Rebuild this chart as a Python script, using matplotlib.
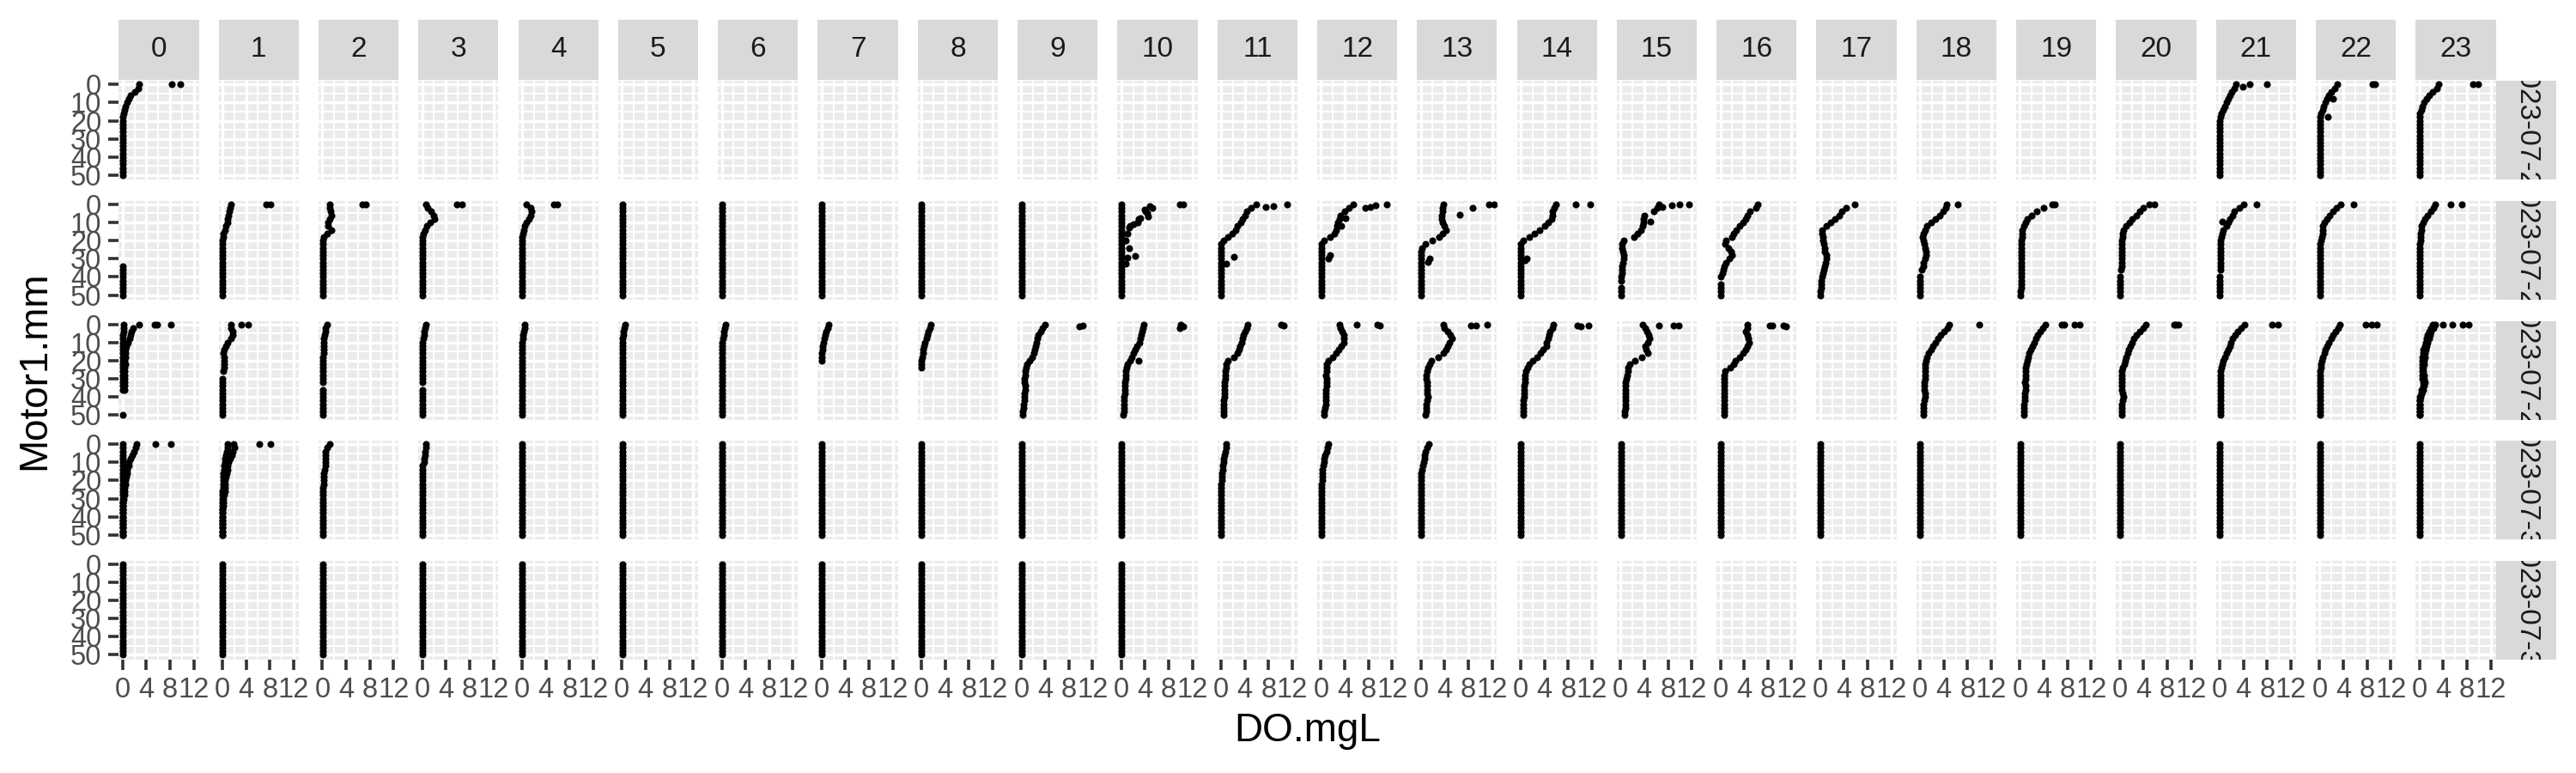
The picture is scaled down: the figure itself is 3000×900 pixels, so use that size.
import numpy as np
import matplotlib
matplotlib.use('Agg')
import matplotlib.pyplot as plt

plt.rcParams['font.family'] = ['Liberation Sans', 'DejaVu Sans']

# ---------------- data ----------------
N = None
z = 0.05
DEPTH = [0, 2, 4, 6, 8, 10, 12, 14, 16, 18, 20, 22, 24,
         26, 28, 30, 32, 34, 36, 38, 40, 42, 44, 46, 48, 50]
HOURS = list(range(24))
DATES = ['2023-07-27', '2023-07-28', '2023-07-29', '2023-07-30', '2023-07-31']
X_TICKS = [0, 4, 8, 12]
Y_TICKS = [0, 10, 20, 30, 40, 50]

flat = [z, z, z, z, z, z, z, z, z, z, z, z, z,
        z, z, z, z, z, z, z, z, z, z, z, z, z]

# DO.mgL profiles per hour (values at DEPTH), day 1
P27 = {
    0: [[2.8, 2.6, 2.0, 1.4, 1.0, 0.7, 0.5, 0.3, 0.2, 0.1, z, z, z,
         z, z, z, z, z, z, z, z, z, z, z, z, z]],
    21: [[2.8, 2.4, 2.0, 1.7, 1.4, 1.1, 0.8, 0.6, 0.3, 0.1, z, z, z,
          z, z, z, z, z, z, z, z, z, z, z, z, z]],
    22: [[3.0, 2.6, 2.0, 1.6, 1.3, 1.0, 0.7, 0.5, 0.3, 0.1, z, z, z,
          z, z, z, z, z, z, z, z, z, z, z, z, z]],
    23: [[3.2, 3.0, 2.2, 1.6, 1.2, 0.8, 0.5, 0.3, 0.1, z, z, z, z,
          z, z, z, z, z, z, z, z, z, z, z, z, z]],
}
E27 = {0: [(0, 8.3), (0, 9.7)],
       21: [(1.5, 3.9), (0, 5.1), (0, 8.0)],
       22: [(7.8, 2.2), (18, 1.4), (0, 8.9), (0, 9.4)],
       23: [(0, 9.0), (0, 9.9)]}

P28 = {
    0: [[N, N, N, N, N, N, N, N, N, N, N, N, N,
         N, N, N, N, z, z, z, z, z, z, z, z, z]],
    1: [[1.4, 1.3, 1.1, 1.0, 0.9, 0.8, 0.6, 0.4, 0.2, 0.1, z, z, z,
         z, z, z, z, z, z, z, z, z, z, z, z, z]],
    2: [[1.2, 1.2, 1.4, 1.5, 1.2, 0.9, 1.0, 1.5, 0.8, 0.3, 0.1, z, z,
         z, z, z, z, z, z, z, z, z, z, z, z, z]],
    3: [[0.7, 0.9, 1.5, 2.0, 2.1, 1.4, 0.8, 0.5, 0.2, z, z, z, z,
         z, z, z, z, z, z, z, z, z, z, z, z, z]],
    4: [[0.8, 1.4, 1.6, 1.4, 1.1, 0.8, 0.5, 0.3, 0.1, z, z, z, z,
         z, z, z, z, z, z, z, z, z, z, z, z, z]],
    5: [flat], 6: [flat], 7: [flat], 8: [flat], 9: [flat], 10: [flat],
    11: [[6.0, 5.0, 4.4, 4.0, 3.6, 3.3, 2.8, 2.4, 1.9, 1.2, 0.4, z, z,
          z, z, z, z, z, z, z, z, z, z, z, z, z]],
    12: [[5.5, 4.7, 4.0, 3.3, 3.2, 2.9, 2.7, 2.6, 2.3, 1.5, 0.5, z, z,
          z, z, z, z, z, z, z, z, z, z, z, z, z]],
    13: [[3.8, 3.7, 3.6, 3.5, 3.5, 3.6, 4.0, 4.2, 3.7, 3.1, 2.0, 0.8, 0.2,
          z, z, z, z, z, z, z, z, z, z, z, z, z]],
    14: [[6.0, 5.6, 5.3, 5.4, 5.2, 4.6, 4.1, 3.2, 2.3, 1.4, 0.5, z, z,
          z, z, z, z, z, z, z, z, z, z, z, z, z]],
    15: [[6.5, 6.2, 5.6, 4.0, 3.9, 3.9, 3.8, 3.5, 2.9, 2.3, 0.6, 0.3, 0.3,
          0.4, 0.6, 0.6, 0.4, 0.3, 0.2, 0.2, 0.1, 0.1, N, z, z, z]],
    16: [[6.3, 6.0, 5.0, 4.6, 4.2, 3.8, 3.2, 2.7, 2.3, 2.0, 1.0, 0.8, 1.3,
          1.8, 2.0, 1.5, 1.0, 0.7, 0.5, 0.3, 0.1, N, z, z, z, z]],
    17: [[5.8, 4.3, 3.7, 3.2, 2.5, 1.8, 1.0, 0.3, 0.3, 0.4, 0.5, 0.6, 0.7,
          0.8, 1.0, 1.0, 0.9, 0.7, 0.6, 0.5, 0.3, 0.2, 0.2, 0.1, z, z]],
    18: [[4.5, 4.3, 3.9, 3.3, 2.6, 1.8, 1.2, 0.8, 0.5, 0.4, 0.5, 0.7, 0.9,
          1.0, 1.0, 0.8, 0.6, 0.5, 0.3, N, z, z, z, z, z, z]],
    19: [[5.5, 4.0, 2.8, 2.0, 1.3, 0.9, 0.6, 0.4, 0.4, 0.4, 0.3, 0.3, 0.3,
          0.3, 0.3, 0.3, 0.3, 0.3, 0.3, 0.3, 0.3, 0.2, 0.2, 0.2, 0.1, 0.1]],
    20: [[5.0, 3.9, 3.3, 2.8, 2.1, 1.7, 1.1, 0.6, 0.5, 0.5, 0.4, 0.4, 0.4,
          0.4, 0.3, 0.3, 0.3, 0.3, 0.2, N, z, z, z, z, z, z]],
    21: [[4.0, 3.3, 2.5, 2.1, 1.7, 1.4, 1.1, 0.6, 0.4, 0.3, 0.2, 0.1, 0.1,
          0.1, 0.1, 0.1, 0.1, 0.1, 0.1, N, z, z, z, z, z, z]],
    22: [[3.5, 2.9, 2.3, 1.7, 1.2, 0.8, 0.6, 0.5, 0.5, 0.4, 0.3, 0.1, 0.1,
          0.1, 0.1, 0.1, 0.1, 0.1, 0.1, 0.1, 0.1, 0.1, 0.1, z, z, z]],
    23: [[2.6, 2.4, 1.9, 1.4, 0.9, 0.6, 0.4, 0.3, 0.2, 0.2, 0.2, 0.1, 0.1,
          0.1, 0.1, 0.1, 0.1, 0.1, 0.1, 0.1, 0.1, 0.1, 0.1, 0.1, z, z]],
}
E28 = {1: [(0, 7.4), (0, 8.1)],
       2: [(0, 6.7), (0, 7.4)],
       3: [(0, 5.9), (0, 6.7)],
       4: [(0, 5.3), (0, 6.0)],
       10: [(0, 9.9), (0, 10.4), (1, 4.8), (2, 5.3), (3, 4.0), (4, 4.1),
            (5, 4.4), (6.5, 4.5), (7.5, 3.2), (8, 3.0), (10, 2.8), (11, 2.0),
            (12, 1.5), (13, 1.3), (16, 1.0), (20, 0.7), (24, 1.3),
            (28.5, 2.4), (29.5, 1.0), (32.5, 0.7)],
       11: [(0, 11.1), (1, 8.8), (1.5, 7.5), (29, 2.2), (32.5, 0.9)],
       12: [(0, 11.1), (0.5, 9.2), (1.5, 8.3), (2, 7.5), (7.5, 4.1),
            (12, 3.4), (28, 1.5), (30, 1.3)],
       13: [(0, 12.3), (0.2, 11.5), (2, 8.7), (5.5, 6.5), (30, 1.5), (31.5, 1.2)],
       14: [(0, 9.3), (0, 11.8), (30, 1.0), (31, 0.8)],
       15: [(0, 11.6), (0, 10.0), (0.5, 8.6), (1.5, 7.1), (9.5, 5.1)],
       18: [(0, 6.4)], 19: [(0, 5.9)], 20: [(0, 5.9)],
       21: [(0, 6.2), (9.5, 0.5)], 22: [(0, 5.7)], 23: [(0, 5.2), (0, 7.1)]}

P29 = {
    0: [[2.8, 1.8, 1.5, 1.4, 1.2, 0.9, 0.6, 0.5, 0.5, 0.5, 0.4, 0.5, 0.4,
         0.3, 0.3, 0.3, 0.3, 0.4, 0.3, N, N, N, N, N, N, z],
        [0.2, 0.2, 0.2, 0.1, 0.1, 0.1, 0.1, 0.1, 0.1, 0.1, 0.1, 0.1, 0.1,
         0.1, 0.1, 0.1, 0.1, 0.1, 0.1, N, N, N, N, N, N, N]],
    1: [[1.5, 1.4, 1.7, 1.8, 1.4, 0.9, 0.6, 0.3, 0.2, 0.3, 0.3, 0.3, 0.3,
         0.2, N, z, z, z, z, z, z, z, z, z, z, z]],
    2: [[0.8, 0.6, 0.5, 0.4, 0.3, 0.3, 0.2, 0.2, 0.2, 0.1, 0.1, 0.1, 0.1,
         0.1, 0.1, 0.1, 0.1, N, z, z, z, z, z, z, z, z]],
    3: [[0.6, 0.5, 0.4, 0.3, 0.2, 0.1, 0.1, z, z, z, z, z, z,
         z, z, z, z, N, z, z, z, z, z, z, z, z]],
    4: [[0.5, 0.4, 0.3, 0.2, 0.1, z, z, z, z, z, z, z, z,
         z, z, z, z, z, z, z, z, z, z, z, z, z]],
    5: [[0.5, 0.4, 0.3, 0.2, 0.1, z, z, z, z, z, z, z, z,
         z, z, z, z, z, z, z, z, z, z, z, z, z]],
    6: [[0.7, 0.5, 0.4, 0.3, 0.2, 0.1, z, z, z, z, z, z, z,
         z, z, z, z, z, z, z, z, z, z, z, z, z]],
    7: [[1.2, 1.0, 0.8, 0.6, 0.4, 0.3, 0.2, 0.1, z, z, z, N, N,
         N, N, N, N, N, N, N, N, N, N, N, N, N]],
    8: [[1.6, 1.4, 1.2, 1.0, 0.8, 0.6, 0.4, 0.3, 0.2, 0.1, z, z, z,
         N, N, N, N, N, N, N, N, N, N, N, N, N]],
    9: [[4.0, 3.6, 3.2, 2.9, 2.7, 2.6, 2.4, 2.3, 2.1, 1.8, 1.4, 1.0, 0.8,
         0.7, 0.6, 0.5, 0.5, 0.6, 0.6, 0.5, 0.5, 0.5, 0.4, 0.4, 0.3, 0.3]],
    10: [[3.8, 3.7, 3.5, 3.3, 3.2, 3.1, 2.7, 2.4, 2.1, 1.8, 1.5, 1.1, 0.9,
          0.8, 0.7, 0.7, 0.6, 0.6, 0.6, 0.6, 0.5, 0.5, 0.5, 0.5, 0.5, 0.4]],
    11: [[4.5, 4.3, 4.0, 3.8, 3.6, 3.4, 3.2, 3.0, 2.8, 2.2, 1.2, 0.9, 0.8,
          0.7, 0.7, 0.7, 0.6, 0.6, 0.6, 0.6, 0.6, 0.5, 0.5, 0.5, 0.5, 0.5]],
    12: [[3.1, 3.3, 3.6, 3.8, 3.9, 3.8, 3.4, 3.0, 2.6, 2.0, 1.3, 1.0, 0.9,
          0.9, 0.8, 0.9, 1.0, 0.9, 0.8, 0.8, 0.8, 0.8, 0.8, 0.7, 0.6, 0.6]],
    13: [[3.8, 3.9, 4.5, 5.0, 5.2, 4.8, 4.5, 4.2, 3.8, 3.0, 1.8, 1.5, 1.2,
          1.0, 0.9, 0.9, 1.0, 1.1, 1.0, 1.0, 1.2, 1.0, 0.9, 0.9, 0.9, 0.8]],
    14: [[5.5, 5.3, 5.0, 4.8, 4.6, 4.4, 4.3, 3.8, 3.3, 2.8, 2.0, 1.4, 1.1,
          0.9, 0.8, 0.8, 0.7, 0.6, 0.6, 0.6, 0.6, 0.5, 0.5, 0.4, 0.4, 0.4]],
    15: [[3.8, 4.2, 4.5, 4.8, 4.9, 4.6, 4.2, 4.3, 4.6, 3.6, 2.4, 1.6, 1.3,
          1.2, 1.1, 1.0, 0.9, 0.9, 0.9, 0.8, 0.8, 0.8, 0.8, 0.8, 0.7, 0.7]],
    16: [[4.6, 4.5, 4.3, 4.5, 4.7, 4.8, 4.6, 4.2, 3.8, 3.2, 2.6, 2.2, 1.6,
          0.8, 0.6, 0.6, 0.6, 0.7, 0.7, 0.6, 0.6, 0.6, 0.7, 0.7, 0.6, 0.6]],
    18: [[4.9, 4.6, 4.0, 3.5, 3.0, 2.6, 2.2, 1.9, 1.5, 1.2, 1.0, 0.9, 0.8,
          0.8, 0.8, 0.8, 0.7, 0.7, 0.7, 0.8, 0.8, 0.7, 0.6, 0.6, 0.5, 0.5]],
    19: [[4.3, 3.8, 3.4, 3.0, 2.7, 2.4, 2.1, 1.8, 1.6, 1.4, 1.2, 1.1, 1.0,
          0.9, 0.9, 0.9, 0.8, 1.0, 0.9, 0.8, 0.8, 0.8, 0.7, 0.7, 0.6, 0.6]],
    20: [[4.4, 3.9, 3.3, 2.8, 2.4, 2.1, 1.8, 1.5, 1.3, 1.1, 0.9, 0.7, 0.5,
          0.4, 0.3, 0.3, 0.3, 0.3, 0.4, 0.5, 0.6, 0.5, 0.4, 0.3, 0.3, 0.3]],
    21: [[4.2, 3.6, 3.0, 2.6, 2.2, 1.9, 1.7, 1.5, 1.2, 0.9, 0.6, 0.4, 0.3,
          0.2, 0.2, 0.1, 0.1, 0.1, 0.1, 0.1, 0.1, 0.1, 0.1, 0.1, 0.1, 0.1]],
    22: [[3.4, 3.1, 2.7, 2.3, 2.0, 1.6, 1.2, 1.0, 0.8, 0.6, 0.4, 0.3, 0.2,
          0.1, 0.1, 0.1, 0.1, 0.1, 0.1, 0.1, 0.1, 0.1, 0.1, 0.1, 0.1, 0.1]],
    23: [[2.6, 2.3, 2.0, 1.8, 1.6, 1.3, 1.2, 1.0, 0.9, 0.9, 0.8, 0.8, 0.7,
          0.7, 0.8, 0.8, 0.9, 0.8, 0.6, 0.4, 0.2, 0.1, z, z, z, z],
         [2.2, 1.9, 1.6, 1.4, 1.2, 1.0, 0.9, 0.7, 0.6, 0.5, 0.5, 0.5, 0.5,
          0.5, 0.5, 0.5, 0.6, 0.6, 0.4, 0.3, 0.1, z, z, z, z, z]],
}
E29 = {0: [(0, 5.4), (0, 5.8), (0, 8.1)],
       1: [(0, 3.2), (0, 4.3)],
       9: [(1, 9.8), (0.5, 10.3)],
       10: [(0, 10.0), (1, 10.5), (2, 9.9), (20, 3.0)],
       11: [(0, 10.1), (0.5, 10.6)],
       12: [(0, 6.1), (0, 9.5), (0.5, 9.9)],
       13: [(0.5, 8.4), (0.5, 9.3), (0, 11.2)],
       14: [(0.5, 9.5), (1, 10.2), (0.5, 11.4)],
       15: [(0.5, 6.5), (0.5, 9.0), (0.5, 9.8)],
       16: [(0.5, 8.3), (0.5, 8.8), (0.5, 10.6), (1, 11.0)],
       18: [(0, 10.0)],
       19: [(0, 7.0), (0, 7.4), (0, 9.2), (0, 10.0)],
       20: [(0, 9.1), (0, 9.5), (0, 9.9)],
       21: [(0, 8.8), (0, 9.9)],
       22: [(0, 7.8), (0, 8.8), (0, 9.7)],
       23: [(0, 4.0), (0, 5.5), (0, 7.3), (0, 8.3)]}

P30 = {
    0: [[2.4, 2.2, 1.9, 1.6, 1.3, 1.1, 1.0, 0.8, 0.7, 0.6, 0.5, 0.5, 0.4,
         0.4, 0.3, 0.2, 0.1, 0.1, z, z, z, z, z, z, z, z], flat],
    1: [[1.9, 2.0, 1.8, 1.6, 1.3, 1.0, 0.9, 0.8, 0.7, 0.6, 0.5, 0.5, 0.4,
         0.4, 0.3, 0.2, 0.2, 0.1, z, z, z, z, z, z, z, z],
        [0.9, 0.8, 0.7, 0.6, 0.5, 0.4, 0.3, 0.3, 0.2, 0.2, 0.1, 0.1, 0.1,
         z, z, z, z, z, z, z, z, z, z, z, z, z]],
    2: [[1.2, 0.8, 0.6, 0.6, 0.5, 0.5, 0.5, 0.4, 0.3, 0.3, 0.2, 0.2, 0.1,
         0.1, z, z, z, z, z, z, z, z, z, z, z, z]],
    3: [[0.6, 0.6, 0.5, 0.5, 0.4, 0.3, 0.1, z, z, z, z, z, z,
         z, z, z, z, z, z, z, z, z, z, z, z, z]],
    4: [flat], 5: [flat], 6: [flat], 7: [flat], 8: [flat], 9: [flat], 10: [flat],
    11: [[0.9, 0.8, 0.7, 0.6, 0.5, 0.4, 0.3, 0.3, 0.2, 0.2, 0.1, z, z,
          z, z, z, z, z, z, z, z, z, z, z, z, z]],
    12: [[1.3, 1.1, 0.9, 0.7, 0.6, 0.5, 0.4, 0.3, 0.3, 0.2, 0.2, 0.1, 0.1,
          z, z, z, z, z, z, z, z, z, z, z, z, z]],
    13: [[1.3, 1.0, 0.8, 0.7, 0.6, 0.5, 0.3, 0.2, 0.1, z, z, z, z,
          z, z, z, z, z, z, z, z, z, z, z, z, z]],
    14: [flat], 15: [flat], 16: [flat], 17: [flat], 18: [flat], 19: [flat],
    20: [flat], 21: [flat], 22: [flat], 23: [flat],
}
E30 = {0: [(0, 5.6), (0, 8.1)], 1: [(0, 6.2), (0, 8.1)]}

P31 = {0: [flat], 1: [flat], 2: [flat], 3: [flat], 4: [flat], 5: [flat],
       6: [flat], 7: [flat], 8: [flat], 9: [flat], 10: [flat]}
E31 = {}

PROFILES = [P27, P28, P29, P30, P31]
EXTRAS = [E27, E28, E29, E30, E31]

# ---------------- layout ----------------
W, H = 3000, 900
fig = plt.figure(figsize=(W / 100, H / 100), dpi=100)
fig.patch.set_facecolor('white')

def px_axes(l, t, w, h):
    return fig.add_axes([l / W, 1 - (t + h) / H, w / W, h / H])

PL, PW, PSTEP = 138.3, 93.3, 116.3
PT, PH, RSTEP = 94.3, 115.0, 139.6

for r, date in enumerate(DATES):
    for c, hour in enumerate(HOURS):
        l = PL + PSTEP * c
        t = PT + RSTEP * r
        ax = px_axes(l, t, PW, PH)
        ax.set_facecolor('#EBEBEB')
        ax.set_xlim(-0.64, 12.86)
        ax.set_ylim(52.5, -1.9)
        ax.set_xticks(X_TICKS)
        ax.set_xticks([2, 6, 10], minor=True)
        ax.set_yticks(Y_TICKS)
        ax.set_yticks([5, 15, 25, 35, 45], minor=True)
        ax.set_xticklabels([str(v) for v in X_TICKS])
        ax.set_yticklabels([str(v) for v in Y_TICKS])
        ax.grid(which='major', color='white', lw=2.4)
        ax.grid(which='minor', color='white', lw=1.5)
        ax.set_axisbelow(True)
        for s in ax.spines.values():
            s.set_visible(False)
        ax.tick_params(which='minor', length=0)
        ax.tick_params(which='major', length=8.4, width=2.6, color='#333333',
                       labelsize=23.5, labelcolor='#4D4D4D', pad=6)
        if c != 0:
            ax.tick_params(axis='y', which='both', left=False, labelleft=False)
        if r != len(DATES) - 1:
            ax.tick_params(axis='x', which='both', bottom=False, labelbottom=False)

        for prof in PROFILES[r].get(hour, []):
            vals = np.array([np.nan if v is None else v for v in prof], dtype=float)
            ax.scatter(vals, DEPTH, s=34, c='black', linewidths=0, zorder=3)
        ex = EXTRAS[r].get(hour, [])
        if ex:
            ax.scatter([e[1] for e in ex], [e[0] for e in ex], s=34, c='black',
                       linewidths=0, zorder=3)

        # top strip
        if r == 0:
            sa = px_axes(l, 22.7, PW, 70)
            sa.set_facecolor('#D9D9D9')
            sa.set_xticks([]); sa.set_yticks([])
            for s in sa.spines.values():
                s.set_visible(False)
            sa.text(0.5, 0.5, str(hour), transform=sa.transAxes, ha='center',
                    va='center', fontsize=24, color='#1A1A1A')

    # right strip
    t = PT + RSTEP * r
    ra = px_axes(PL + PSTEP * 23 + PW, t, 70, PH)
    ra.set_facecolor('#D9D9D9')
    ra.set_xticks([]); ra.set_yticks([])
    for s in ra.spines.values():
        s.set_visible(False)
    ra.text(0.5, 0.5, date, transform=ra.transAxes, ha='center', va='center',
            rotation=-90, rotation_mode='anchor', fontsize=24, color='#1A1A1A',
            clip_on=True)

fig.text(1522.5 / W, 1 - 851 / H, 'DO.mgL', ha='center', va='center',
         fontsize=33, color='black')
fig.text(40 / W, 1 - 431 / H, 'Motor1.mm', ha='center', va='center',
         rotation=90, fontsize=33, color='black')

fig.savefig('out.png', dpi=100)
